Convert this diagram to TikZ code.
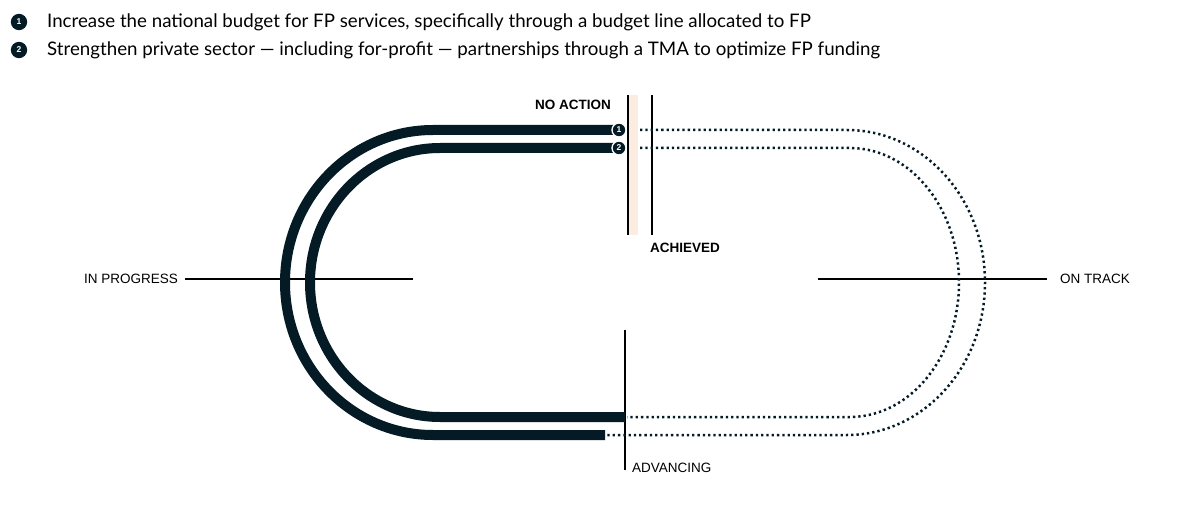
\documentclass[tikz,border=0pt]{standalone}
\usepackage{fontspec}
\setmainfont{Lato}
\newfontfamily\lblfont{Liberation Sans}
\usetikzlibrary{positioning}
\definecolor{TrackNavy}{RGB}{4,27,38}
\definecolor{NoActionPeach}{RGB}{253,236,226}

\begin{document}
\begin{tikzpicture}[x=1pt,y=-1pt,
  trk/.style={TrackNavy,line width=10pt},
  togo/.style={draw=TrackNavy,line width=2.5pt,dash pattern=on 2.3pt off 3pt},
  axis/.style={black,line width=1.6pt},
  badge/.style n args={2}{circle,fill=TrackNavy,draw=#2,line width=1.3pt,inner sep=0pt,minimum size=#1,text=white,font=\lblfont\bfseries\fontsize{8.5}{8.5}\selectfont},
  lbl/.style={font=\lblfont\fontsize{13.5}{14}\selectfont,inner sep=0pt},
  legend/.style={font=\fontsize{18.7}{19}\selectfont,inner sep=0pt,anchor=west}]
\useasboundingbox (0,0) rectangle (1180,505);
% legend
\foreach \y/\1/\txt in %
{22/1/{Increase the national budget for FP services, specifically through a budget line allocated to FP},
 50/2/{Strengthen private sector --- including for-profit --- partnerships through a TMA to optimize FP funding}} {
   \node[badge={15pt}{TrackNavy}](key\1) at (19,\y) {\1};
   \node[legend](keytxt\1) at (47,\y) {\txt};
}
% status bands and axes
\fill[NoActionPeach] (628,95) rectangle (638,235);
\coordinate (noA) at (628,95);   \coordinate (noB) at (628,235);
\coordinate (achA) at (652,95);  \coordinate (achB) at (652,235);
\coordinate (advA) at (625,330); \coordinate (advB) at (625,470);
\coordinate (progA) at (185,279); \coordinate (progB) at (413,279);
\coordinate (trackA) at (818,279); \coordinate (trackB) at (1047,279);
\draw[axis] (noA) -- (noB);
\draw[axis] (achA) -- (achB);
\draw[axis] (advA) -- (advB);
\draw[axis] (progA) -- (progB);
\draw[axis] (trackA) -- (trackB);
\node[lbl,font=\lblfont\bfseries\fontsize{13.5}{14}\selectfont,anchor=east](noact) at (611,105) {NO ACTION};
\node[lbl,font=\lblfont\bfseries\fontsize{13.5}{14}\selectfont,anchor=west](achv) at (650,248) {ACHIEVED};
\node[lbl,anchor=west](advc) at (632,468) {ADVANCING};
\node[lbl,anchor=east](inprog) at (178,279) {IN PROGRESS};
\node[lbl,anchor=west](ontrk) at (1060,279) {ON TRACK};
% tracks: solid part done, dotted part still to go
\coordinate (t1s) at (619,130); \coordinate (t1e) at (605,435);
\coordinate (t2s) at (619,148); \coordinate (t2e) at (625,417);
\path[togo] (640,130) -- (847,130) arc(270:450:138 and 152.5) -- (607,435);
\path[togo] (640,148) -- (850,148) arc(270:450:109 and 134.5) -- (627,417);
\draw[trk] (t1s) -- (433,130) arc(270:90:148 and 152.5) -- (t1e);
\draw[trk] (t2s) -- (440,148) arc(270:90:130 and 134.5) -- (t2e);
\node[badge={14pt}{white}](b1) at (t1s) {1};
\node[badge={14pt}{white}](b2) at (t2s) {2};
\end{tikzpicture}
\end{document}
